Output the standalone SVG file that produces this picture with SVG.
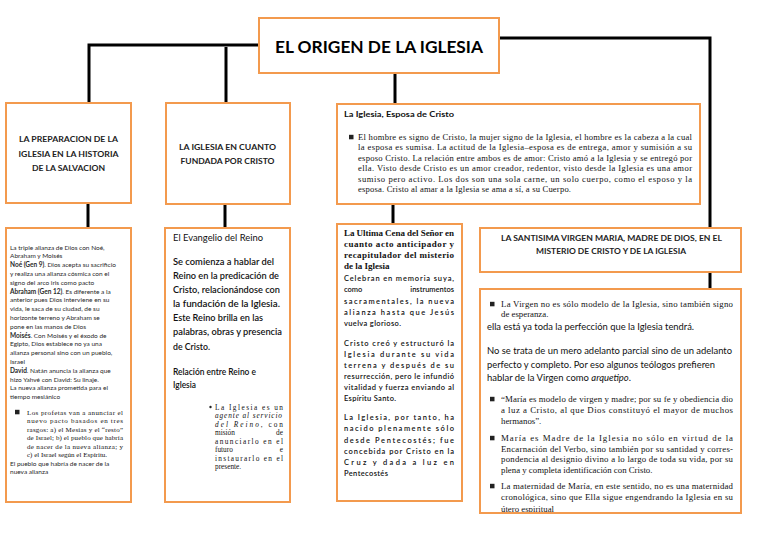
<svg xmlns="http://www.w3.org/2000/svg" width="768" height="543" viewBox="0 0 768 543">
<style>
.box{fill:#fff;stroke:#F39A4E;stroke-width:2}
.conn{fill:none;stroke:#000;stroke-width:3}
.sans{font-family:Lato,"Liberation Sans",sans-serif;fill:#111}
.serif{font-family:"Liberation Serif",serif;fill:#111}
.hd{font-family:Lato,"Liberation Sans",sans-serif;font-weight:bold;fill:#222;text-anchor:middle}
.c1{font-size:6.5px;fill:#2a2a2a}
.sq{fill:#222}
</style>
<defs>
<clipPath id="clip4"><rect x="481" y="290" width="259" height="222"/></clipPath>
</defs>
<rect width="768" height="543" fill="#fff"/>
<g id="connectors">
<path class="conn" d="M259 45 H89 V103"/>
<path class="conn" d="M226 47 V103"/>
<path class="conn" d="M395 73 V104"/>
<path class="conn" d="M499 38 H710 V228"/>
<path class="conn" d="M88 203 V228"/>
<path class="conn" d="M225 204 V228"/>
<path class="conn" d="M393 204 V224"/>
<path class="conn" d="M710 272 V289"/>
</g>
<g id="title">
<rect class="box" x="259" y="18" width="240" height="55"/>
<text class="hd" x="379" y="53" font-size="17" textLength="208" lengthAdjust="spacingAndGlyphs" style="fill:#000">EL ORIGEN DE LA IGLESIA</text>
</g>
<g id="preparacion">
<rect class="box" x="6" y="103" width="125" height="100"/>
<text class="hd" x="68.5" y="142" font-size="8" textLength="99" lengthAdjust="spacingAndGlyphs">LA PREPARACION DE LA</text>
<text class="hd" x="68.5" y="157" font-size="8" textLength="100" lengthAdjust="spacingAndGlyphs">IGLESIA EN LA HISTORIA</text>
<text class="hd" x="68.5" y="171" font-size="8" textLength="73" lengthAdjust="spacingAndGlyphs">DE LA SALVACION</text>
</g>
<g id="fundada">
<rect class="box" x="166" y="103" width="124" height="101"/>
<text class="hd" x="227.5" y="150" font-size="8" textLength="97" lengthAdjust="spacingAndGlyphs">LA IGLESIA EN CUANTO</text>
<text class="hd" x="227.5" y="164" font-size="8" textLength="94" lengthAdjust="spacingAndGlyphs">FUNDADA POR CRISTO</text>
</g>
<g id="esposa">
<rect class="box" x="337" y="104" width="363" height="100"/>
<text class="sans" x="344" y="117" font-size="8" font-weight="bold" textLength="110" lengthAdjust="spacingAndGlyphs">La Iglesia, Esposa de Cristo</text>
<rect class="sq" x="349" y="134.8" width="4.5" height="4.5"/>
<g class="serif" font-size="8.6">
<text x="358" y="140" textLength="334" lengthAdjust="spacing">El hombre es signo de Cristo, la mujer signo de la Iglesia, el hombre es la cabeza a la cual</text>
<text x="358" y="150.4" textLength="334" lengthAdjust="spacing">la esposa es sumisa. La actitud de la Iglesia–esposa es de entrega, amor y sumisión a su</text>
<text x="358" y="160.8" textLength="334" lengthAdjust="spacing">esposo Cristo. La relación entre ambos es de amor: Cristo amó a la Iglesia y se entregó por</text>
<text x="358" y="171.2" textLength="334" lengthAdjust="spacing">ella. Visto desde Cristo es un amor creador, redentor, visto desde la Iglesia es una amor</text>
<text x="358" y="181.6" textLength="334" lengthAdjust="spacing">sumiso pero activo. Los dos son una sola carne, un solo cuerpo, como el esposo y la</text>
<text x="358" y="192" textLength="213" lengthAdjust="spacing">esposa. Cristo al amar a la Iglesia se ama a sí, a su Cuerpo.</text>
</g>
</g>
<g id="alianzas">
<rect class="box" x="6" y="228" width="125" height="274"/>
<g class="sans c1">
<text x="10" y="249.5">La triple alianza de Dios con Noé,</text>
<text x="10" y="258.3">Abraham y Moisés</text>
<text x="10" y="267.1"><tspan font-weight="bold">Noé (Gen 9)</tspan>. Dios acepta su sacrificio</text>
<text x="10" y="275.9">y realiza una alianza cósmica con el</text>
<text x="10" y="284.7">signo del arco iris como pacto</text>
<text x="10" y="293.5"><tspan font-weight="bold">Abraham (Gen 12)</tspan>. Es diferente a la</text>
<text x="10" y="302.3">anterior pues Dios interviene en su</text>
<text x="10" y="311.1">vida, le saca de su ciudad, de su</text>
<text x="10" y="319.9">horizonte terreno y Abraham se</text>
<text x="10" y="328.7">pone en las manos de Dios</text>
<text x="10" y="337.5"><tspan font-weight="bold">Moisés</tspan>. Con Moisés y el éxodo de</text>
<text x="10" y="346.3">Egipto, Dios establece no ya una</text>
<text x="10" y="355.1">alianza personal sino con un pueblo,</text>
<text x="10" y="363.9">Israel</text>
<text x="10" y="372.7"><tspan font-weight="bold">David</tspan>. Natán anuncia la alianza que</text>
<text x="10" y="381.5">hizo Yahvé con David: Su linaje.</text>
<text x="10" y="390.3">La nueva alianza prometida para el</text>
<text x="10" y="399.1">tiempo mesiánico</text>
<text x="10" y="465.5">El pueblo que habría de nacer de la</text>
<text x="10" y="474">nueva alianza</text>
</g>
<rect class="sq" x="15" y="409.8" width="4.5" height="4.5"/>
<g class="serif" font-size="7">
<text x="27" y="414.5" textLength="96" lengthAdjust="spacing">Los profetas van a anunciar el</text>
<text x="27" y="423" textLength="96" lengthAdjust="spacing">nuevo pacto basados en tres</text>
<text x="27" y="431.5" textLength="96" lengthAdjust="spacing">rasgos: a) el Mesías y el “resto”</text>
<text x="27" y="440" textLength="96" lengthAdjust="spacing">de Israel; b) el pueblo que habría</text>
<text x="27" y="448.5" textLength="96" lengthAdjust="spacing">de nacer de la nueva alianza; y</text>
<text x="27" y="457">c) el Israel según el Espíritu.</text>
</g>
</g>
<g id="evangelio">
<rect class="box" x="165" y="228" width="125" height="274"/>
<g class="sans" font-size="8.5">
<text x="173" y="241" textLength="90" lengthAdjust="spacingAndGlyphs">El Evangelio del Reino</text>
<g font-weight="600">
<text x="173" y="265" textLength="101" lengthAdjust="spacingAndGlyphs">Se comienza a hablar del</text>
<text x="173" y="278.5" textLength="106" lengthAdjust="spacingAndGlyphs">Reino en la predicación de</text>
<text x="173" y="292.5" textLength="107" lengthAdjust="spacingAndGlyphs">Cristo, relacionándose con</text>
<text x="173" y="307" textLength="107" lengthAdjust="spacingAndGlyphs">la fundación de la Iglesia.</text>
<text x="173" y="321" textLength="90" lengthAdjust="spacingAndGlyphs">Este Reino brilla en las</text>
<text x="173" y="335" textLength="109" lengthAdjust="spacingAndGlyphs">palabras, obras y presencia</text>
<text x="173" y="350" textLength="37" lengthAdjust="spacingAndGlyphs">de Cristo.</text>
<text x="173" y="375" textLength="83" lengthAdjust="spacingAndGlyphs">Relación entre Reino e</text>
<text x="173" y="388" textLength="23" lengthAdjust="spacingAndGlyphs">Iglesia</text>
</g>
</g>
<circle class="sq" cx="210.5" cy="407" r="1.2"/>
<g class="serif" font-size="7.3">
<text x="215" y="409.5" textLength="68" lengthAdjust="spacing">La Iglesia es un</text>
<text x="215" y="418" font-style="italic" textLength="67" lengthAdjust="spacing">agente al servicio</text>
<text x="215" y="426.5" textLength="68" lengthAdjust="spacing"><tspan font-style="italic">del Reino</tspan>, con</text>
<text x="215" y="435">misión</text>
<text x="283" y="435" text-anchor="end">de</text>
<text x="215" y="443.5" textLength="68" lengthAdjust="spacing">anunciarlo en el</text>
<text x="215" y="452">futuro</text>
<text x="283" y="452" text-anchor="end">e</text>
<text x="215" y="460.5" textLength="68" lengthAdjust="spacing">instaurarlo en el</text>
<text x="215" y="469">presente.</text>
</g>
</g>
<g id="ultimacena">
<rect class="box" x="337" y="224" width="125" height="277"/>
<g class="serif" font-size="9" font-weight="bold">
<text x="344" y="236" textLength="110" lengthAdjust="spacing">La Ultima Cena del Señor en</text>
<text x="344" y="247" textLength="110" lengthAdjust="spacing">cuanto acto anticipador y</text>
<text x="344" y="258" textLength="110" lengthAdjust="spacing">recapitulador del misterio</text>
<text x="344" y="269">de la Iglesia</text>
</g>
<g class="sans" font-size="7.5" font-weight="600">
<text x="344" y="281" textLength="110" lengthAdjust="spacing">Celebran en memoria suya,</text>
<text x="344" y="292">como</text>
<text x="454" y="292" text-anchor="end">instrumentos</text>
<text x="344" y="303.5" textLength="110" lengthAdjust="spacing">sacramentales, la nueva</text>
<text x="344" y="314.5" textLength="110" lengthAdjust="spacing">alianza hasta que Jesús</text>
<text x="344" y="325.5" textLength="57" lengthAdjust="spacing">vuelva glorioso.</text>
<text x="344" y="346" textLength="110" lengthAdjust="spacing">Cristo creó y estructuró la</text>
<text x="344" y="357" textLength="110" lengthAdjust="spacing">Iglesia durante su vida</text>
<text x="344" y="368" textLength="110" lengthAdjust="spacing">terrena y después de su</text>
<text x="344" y="379" textLength="110" lengthAdjust="spacing">resurrección, pero le infundió</text>
<text x="344" y="390" textLength="110" lengthAdjust="spacing">vitalidad y fuerza enviando al</text>
<text x="344" y="401" textLength="52" lengthAdjust="spacing">Espíritu Santo.</text>
<text x="344" y="420" textLength="110" lengthAdjust="spacing">La Iglesia, por tanto, ha</text>
<text x="344" y="431" textLength="110" lengthAdjust="spacing">nacido plenamente sólo</text>
<text x="344" y="442.5" textLength="110" lengthAdjust="spacing">desde Pentecostés; fue</text>
<text x="344" y="454" textLength="110" lengthAdjust="spacing">concebida por Cristo en la</text>
<text x="344" y="465" textLength="110" lengthAdjust="spacing">Cruz y dada a luz en</text>
<text x="344" y="476" textLength="44" lengthAdjust="spacing">Pentecostés</text>
</g>
</g>
<g id="maria-titulo">
<rect class="box" x="480" y="228" width="261" height="44"/>
<text class="hd" x="611.5" y="241" font-size="7.5" textLength="221" lengthAdjust="spacingAndGlyphs">LA SANTISIMA VIRGEN MARIA, MADRE DE DIOS, EN EL</text>
<text class="hd" x="611" y="254" font-size="7.5" textLength="150" lengthAdjust="spacingAndGlyphs">MISTERIO DE CRISTO Y DE LA IGLESIA</text>
</g>
<g id="maria-texto">
<rect class="box" x="480" y="289" width="261" height="224"/>
<g clip-path="url(#clip4)">
<rect class="sq" x="490" y="301.8" width="4.5" height="4.5"/>
<rect class="sq" x="490" y="396.8" width="4.5" height="4.5"/>
<rect class="sq" x="490" y="435.8" width="4.5" height="4.5"/>
<rect class="sq" x="490" y="483.8" width="4.5" height="4.5"/>
<g class="serif" font-size="8.8">
<text x="501" y="307" textLength="232" lengthAdjust="spacing">La Virgen no es sólo modelo de la Iglesia, sino también signo</text>
<text x="501" y="317">de esperanza.</text>
<text x="501" y="402" textLength="232" lengthAdjust="spacing">“María es modelo de virgen y madre; por su fe y obediencia dio</text>
<text x="501" y="413" textLength="232" lengthAdjust="spacing">a luz a Cristo, al que Dios constituyó el mayor de muchos</text>
<text x="501" y="424">hermanos”.</text>
<text x="501" y="441" textLength="232" lengthAdjust="spacing">María es Madre de la Iglesia no sólo en virtud de la</text>
<text x="501" y="451.5" textLength="232" lengthAdjust="spacing">Encarnación del Verbo, sino también por su santidad y corres-</text>
<text x="501" y="462" textLength="232" lengthAdjust="spacing">pondencia al designio divino a lo largo de toda su vida, por su</text>
<text x="501" y="472.5">plena y completa identificación con Cristo.</text>
<text x="501" y="489" textLength="232" lengthAdjust="spacing">La maternidad de María, en este sentido, no es una maternidad</text>
<text x="501" y="500" textLength="232" lengthAdjust="spacing">cronológica, sino que Ella sigue engendrando la Iglesia en su</text>
<text x="501" y="511.5">útero espiritual</text>
</g>
<g class="sans" font-size="8.6">
<text x="487" y="330" textLength="207" lengthAdjust="spacingAndGlyphs">ella está ya toda la perfección que la Iglesia tendrá.</text>
<text x="487" y="354" textLength="245" lengthAdjust="spacingAndGlyphs">No se trata de un mero adelanto parcial sino de un adelanto</text>
<text x="487" y="367.5" textLength="228" lengthAdjust="spacingAndGlyphs">perfecto y completo. Por eso algunos teólogos prefieren</text>
<text x="487" y="381" textLength="144" lengthAdjust="spacingAndGlyphs">hablar de la Virgen como <tspan font-style="italic">arquetipo</tspan>.</text>
</g>
</g>
</g>
</svg>
